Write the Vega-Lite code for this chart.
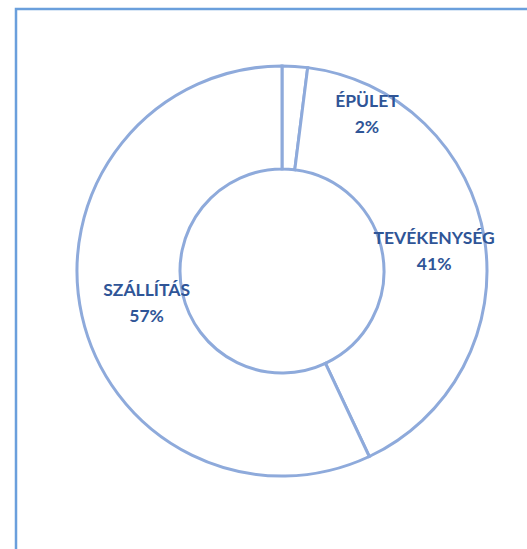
{
  "$schema": "https://vega.github.io/schema/vega-lite/v6.json",
  "width": 532,
  "height": 600,
  "autosize": {"type": "none"},
  "padding": {"left": 16, "top": 9, "right": 0, "bottom": 0},
  "background": "white",
  "view": {"stroke": "#6a9fdc", "strokeWidth": 2.5, "fill": "white"},
  "data": {
    "values": [
      {"category": "ÉPÜLET", "share": 0.02, "order": 1},
      {"category": "TEVÉKENYSÉG", "share": 0.41, "order": 2},
      {"category": "SZÁLLÍTÁS", "share": 0.57, "order": 3}
    ]
  },
  "encoding": {
    "theta": {"field": "share", "type": "quantitative", "stack": true},
    "order": {"field": "order", "type": "quantitative"}
  },
  "layer": [
    {
      "mark": {"type": "arc", "radius": 205, "radius2": 102, "fill": "white", "stroke": "#8eaadb", "strokeWidth": 3, "yOffset": -38}
    },
    {
      "mark": {"type": "text", "radius": 150, "yOffset": -38, "dx": 4, "dy": -8.5, "font": "Lato", "fontWeight": "bold", "fontSize": 17.5, "fill": "#2f5597"},
      "encoding": {"text": {"condition": {"test": "datum.category === 'TEVÉKENYSÉG'", "field": "category"}, "value": ""}}
    },
    {
      "mark": {"type": "text", "radius": 150, "yOffset": -38, "dx": 4, "dy": 17.5, "font": "Lato", "fontWeight": "bold", "fontSize": 17.5, "fill": "#2f5597"},
      "encoding": {"text": {"condition": {"test": "datum.category === 'TEVÉKENYSÉG'", "field": "share", "format": ".0%"}, "value": ""}}
    },
    {
      "mark": {"type": "text", "radius": 150, "yOffset": -38, "dx": 11, "dy": -13, "font": "Lato", "fontWeight": "bold", "fontSize": 17.5, "fill": "#2f5597"},
      "encoding": {"text": {"condition": {"test": "datum.category === 'SZÁLLÍTÁS'", "field": "category"}, "value": ""}}
    },
    {
      "mark": {"type": "text", "radius": 150, "yOffset": -38, "dx": 11, "dy": 13, "font": "Lato", "fontWeight": "bold", "fontSize": 17.5, "fill": "#2f5597"},
      "encoding": {"text": {"condition": {"test": "datum.category === 'SZÁLLÍTÁS'", "field": "share", "format": ".0%"}, "value": ""}}
    },
    {
      "mark": {"type": "text", "radius": 150, "yOffset": -38, "dx": 75.5, "dy": -19, "font": "Lato", "fontWeight": "bold", "fontSize": 17.5, "fill": "#2f5597"},
      "encoding": {"text": {"condition": {"test": "datum.category === 'ÉPÜLET'", "field": "category"}, "value": ""}}
    },
    {
      "mark": {"type": "text", "radius": 150, "yOffset": -38, "dx": 75.5, "dy": 7, "font": "Lato", "fontWeight": "bold", "fontSize": 17.5, "fill": "#2f5597"},
      "encoding": {"text": {"condition": {"test": "datum.category === 'ÉPÜLET'", "field": "share", "format": ".0%"}, "value": ""}}
    }
  ]
}
